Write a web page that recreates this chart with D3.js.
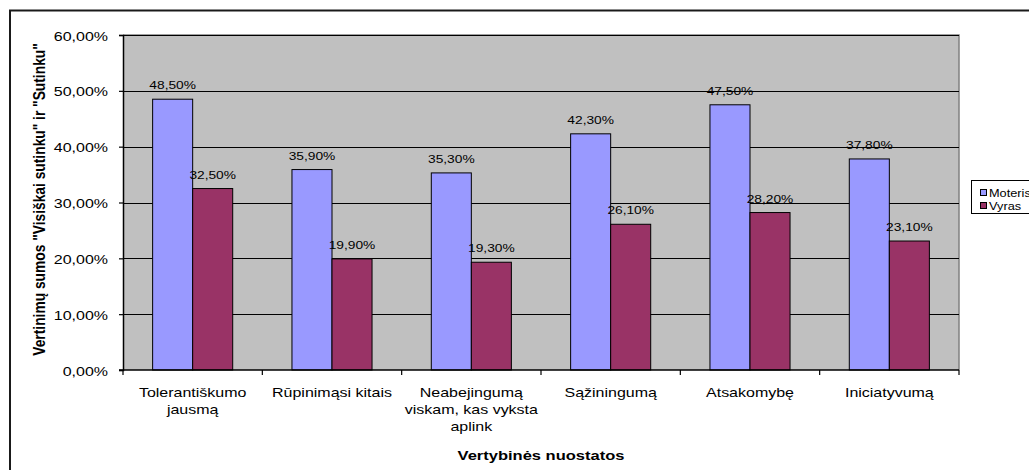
<!DOCTYPE html>
<html>
<head>
<meta charset="utf-8">
<script src="https://cdn.jsdelivr.net/npm/d3@7"></script>
<style>
  html, body { margin: 0; padding: 0; background: #fff; overflow: hidden; }
  svg { display: block; font-family: Arial, "Liberation Sans", sans-serif; }
</style>
</head>
<body>
<svg id="chart" width="1029" height="470"></svg>
<script>
const categories = [
  ["Tolerantiškumo", "jausmą"],
  ["Rūpinimąsi kitais"],
  ["Neabejingumą", "viskam, kas vyksta", "aplink"],
  ["Sąžiningumą"],
  ["Atsakomybę"],
  ["Iniciatyvumą"]
];
const seriesNames = ["Moteris", "Vyras"];
const moteris = [48.5, 35.9, 35.3, 42.3, 47.5, 37.8];
const vyras = [32.5, 19.9, 19.3, 26.1, 28.2, 23.1];
const yTicks = [0, 10, 20, 30, 40, 50, 60];
const colors = ["#9999FF", "#993366"];
const yTitle = "Vertinimų sumos \"Visiškai sutinku\" ir \"Sutinku\"";
const xTitle = "Vertybinės nuostatos";

const SX = 1.25; // horizontal stretch of the original rendering
const fmt = v => v.toFixed(2).replace(".", ",") + "%";

const svg = d3.select("#chart");
const plot = {left: 123, right: 959, top: 35, bottom: 370};

// outer chart border
svg.append("rect").attr("x", 10).attr("y", 10.5).attr("width", 1100).attr("height", 600)
  .attr("fill", "none").attr("stroke", "#1a1a1a").attr("stroke-width", 2);

const x0 = d3.scaleBand().domain(d3.range(categories.length))
  .range([plot.left, plot.right]).paddingInner(0).paddingOuter(0);
const x1 = d3.scaleBand().domain(d3.range(seriesNames.length))
  .range([0, x0.bandwidth()]).paddingOuter(0.74).paddingInner(0);
const y = d3.scaleLinear().domain([0, 60]).range([plot.bottom, plot.top]);

// plot background
svg.append("rect").attr("x", plot.left).attr("y", plot.top)
  .attr("width", plot.right - plot.left).attr("height", plot.bottom - plot.top)
  .attr("fill", "#C0C0C0");
// top/right frame
svg.append("path")
  .attr("d", `M${plot.left},${plot.top}H${plot.right}V${plot.bottom}`)
  .attr("fill", "none").attr("stroke", "#808080").attr("stroke-width", 1.5);

// gridlines
svg.append("g").selectAll("line").data(yTicks.filter(t => t > 0)).join("line")
  .attr("x1", plot.left).attr("x2", plot.right)
  .attr("y1", d => Math.round(y(d)) + 0.5).attr("y2", d => Math.round(y(d)) + 0.5)
  .attr("stroke", "#000").attr("stroke-width", 1);

// bars
const series = [moteris, vyras];
const gBars = svg.append("g");
series.forEach((vals, si) => {
  gBars.selectAll(null).data(vals).join("rect")
    .attr("x", (d, i) => x0(i) + x1(si))
    .attr("y", d => y(d))
    .attr("width", x1.bandwidth())
    .attr("height", d => y(0) - y(d))
    .attr("fill", colors[si]).attr("stroke", "#000").attr("stroke-width", 1);
  // data labels
  gBars.selectAll(null).data(vals).join("text")
    .attr("transform", (d, i) => `translate(${x0(i) + x1(si) + x1.bandwidth() / 2},${y(d) - 10}) scale(${SX},1)`)
    .attr("text-anchor", "middle").attr("font-size", 11).attr("fill", "#000")
    .text(d => fmt(d));
});

// y axis
const yAxis = d3.axisLeft(y).tickValues(yTicks).tickSize(4).tickFormat(d => fmt(d));
const gy = svg.append("g").attr("transform", `translate(${plot.left},0)`).call(yAxis);
gy.select(".domain").attr("stroke", "#000").attr("stroke-width", 1.5);
gy.selectAll(".tick line").attr("stroke", "#000").attr("stroke-width", 1.2);
gy.selectAll(".tick text").each(function(d) {
  const t = d3.select(this);
  t.attr("x", null).attr("dy", null)
   .attr("transform", `translate(-15,5) scale(${SX},1)`)
   .attr("font-size", 12.8).attr("fill", "#000").attr("font-family", "Arial, 'Liberation Sans', sans-serif");
});

// x axis
const gx = svg.append("g").attr("transform", `translate(0,${plot.bottom})`);
gx.append("line").attr("x1", plot.left - 4).attr("x2", plot.right)
  .attr("y1", 0).attr("y2", 0).attr("stroke", "#000").attr("stroke-width", 1.5);
gx.selectAll("line.tk").data(d3.range(categories.length + 1)).join("line")
  .attr("class", "tk")
  .attr("x1", i => i < categories.length ? x0(i) : plot.right)
  .attr("x2", i => i < categories.length ? x0(i) : plot.right)
  .attr("y1", 0).attr("y2", 5).attr("stroke", "#000").attr("stroke-width", 1.2);
categories.forEach((lines, i) => {
  lines.forEach((ln, li) => {
    gx.append("text")
      .attr("transform", `translate(${x0(i) + x0.bandwidth() / 2},${27 + li * 17}) scale(${SX},1)`)
      .attr("text-anchor", "middle").attr("font-size", 12.8).attr("fill", "#000")
      .text(ln);
  });
});

// axis titles
svg.append("text")
  .attr("transform", `translate(${(plot.left + plot.right) / 2},${460}) scale(${SX},1)`)
  .attr("text-anchor", "middle").attr("font-size", 13.2).attr("font-weight", "bold")
  .text(xTitle);
svg.append("text")
  .attr("transform", `translate(45,199.5) scale(${SX},1) rotate(-90)`)
  .attr("text-anchor", "middle").attr("font-size", 13.8).attr("font-weight", "bold")
  .text(yTitle);

// legend
const lg = svg.append("g");
lg.append("rect").attr("x", 971.5).attr("y", 180.5).attr("width", 100).attr("height", 33)
  .attr("fill", "#fff").attr("stroke", "#000").attr("stroke-width", 1);
seriesNames.forEach((n, i) => {
  lg.append("rect").attr("x", 980.5).attr("y", 189.5 + i * 13).attr("width", 6).attr("height", 6)
    .attr("fill", colors[i]).attr("stroke", "#000").attr("stroke-width", 1);
  lg.append("text").attr("transform", `translate(989,${196.5 + i * 13}) scale(${SX},1)`)
    .attr("font-size", 10.2).attr("fill", "#000").text(n);
});
</script>
</body>
</html>
